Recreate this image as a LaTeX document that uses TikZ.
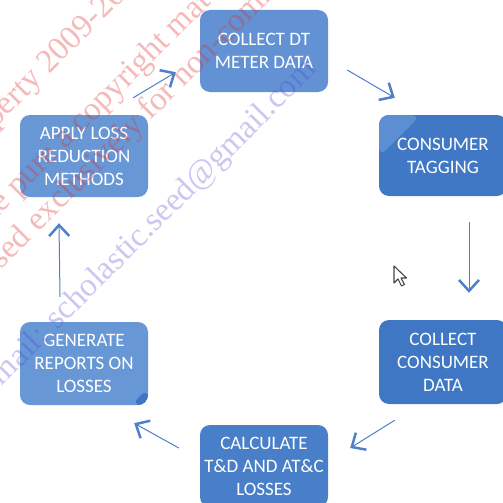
\documentclass[tikz,border=0pt]{standalone}
\usepackage{fontspec}
\setmainfont{Carlito}
\newfontfamily\wmfont{Liberation Serif}
\usetikzlibrary{arrows.meta,calc}

\definecolor{boxdt}{RGB}{98,146,211}
\definecolor{boxtag}{RGB}{64,120,197}
\definecolor{glosstag}{RGB}{92,142,210}
\definecolor{boxccd}{RGB}{63,119,196}
\definecolor{boxcalc}{RGB}{72,127,200}
\definecolor{boxgen}{RGB}{104,151,213}
\definecolor{shadegen}{RGB}{62,116,194}
\definecolor{boxapply}{RGB}{104,151,213}
\definecolor{flowblue}{RGB}{78,128,202}
\definecolor{wmred}{RGB}{225,45,45}
\definecolor{wmblue}{RGB}{80,70,215}
\definecolor{cursorgrey}{RGB}{70,70,70}

\begin{document}
\begin{tikzpicture}[x=1pt,y=-1pt,
  stepbox/.style={rounded corners=10pt, minimum width=128pt, minimum height=82pt,
    inner sep=0pt, text=white, align=center,
    font=\fontsize{19}{23}\selectfont},
  flow/.style={draw=flowblue, line width=1pt,
    -{Straight Barb[length=11pt,width=20pt,line width=2.5pt]}},
  wmark/.style={font=\wmfont\fontsize{33}{33}\selectfont, rotate=45,
    inner sep=0pt, anchor=mid west}]
\useasboundingbox (0,0) rectangle (503,503);
\clip (0,0) rectangle (503,503);
\fill[white] (0,0) rectangle (503,503);

% process steps
\node[stepbox, fill=boxdt] (dt) at (264,51) {COLLECT DT\\METER DATA};
\node[stepbox, fill=boxtag, minimum height=81pt,
  path picture={\fill[glosstag] (path picture bounding box.north west)
    -- ++(42,0) -- ++(-42,42) -- cycle;}] (tag) at (443,155.5) {CONSUMER\\TAGGING};
\node[stepbox, fill=boxccd, minimum height=84pt] (ccd) at (443,362) {COLLECT\\CONSUMER\\DATA};
\node[stepbox, fill=boxcalc] (calc) at (264,466) {CALCULATE\\T\&D AND AT\&C\\LOSSES};
\node[stepbox, fill=boxgen, minimum height=83pt,
  path picture={\fill[shadegen] (path picture bounding box.south east)
    -- ++(0,-17) -- ++(-17,17) -- cycle;}] (gen) at (84,363.5) {GENERATE\\REPORTS ON\\LOSSES};
\node[stepbox, fill=boxapply] (apply) at (84,156) {APPLY LOSS\\REDUCTION\\METHODS};

% cycle arrows
\draw[flow] ($(apply.north east)+(-15,-17)$) -- ($(dt.south west)+(-24,-20)$);
\draw[flow] ($(dt.east)+(19,19)$) -- ($(tag.north west)+(16,-17)$);
\draw[flow] ($(tag.south)+(26,26)$) -- ($(ccd.north)+(26,-27)$);
\draw[flow] ($(ccd.south west)+(16,16)$) -- ($(calc.east)+(22,-18)$);
\draw[flow] ($(calc.west)+(-21,-18)$) -- ($(gen.south east)+(-14,18)$);
\draw[flow] ($(gen.north)+(-24,-25)$) -- ($(apply.south)+(-25,26)$);

% mouse pointer
\coordinate (ptr) at (394,266);
\draw[cursorgrey, fill=white, line width=1.1pt, line join=round]
  (ptr) -- ++(0,17) -- ++(4,-4) -- ++(3.5,7) -- ++(3,-1.5) -- ++(-3.5,-6.5)
  -- ++(5.5,0) -- cycle;

% grey mark in the corner
\draw[gray!70, line width=2.5pt] (-2,2) arc[start angle=180, end angle=330, radius=10];

% watermark lines
\node[wmark, text=wmred, opacity=.33] (wmA) at (-39,159) {Property 2009-2010};
\node[wmark, text=wmred, opacity=.33] (wmB) at (-18,230) {the pure a copyright material};
\node[wmark, text=wmred, opacity=.33] (wmC) at (-12,280) {used exclusively for non-commercial};
\node[wmark, text=wmblue, opacity=.3] (wmD) at (-18,403) {e-mail: scholastic.seed@gmail.com};
\end{tikzpicture}
\end{document}
